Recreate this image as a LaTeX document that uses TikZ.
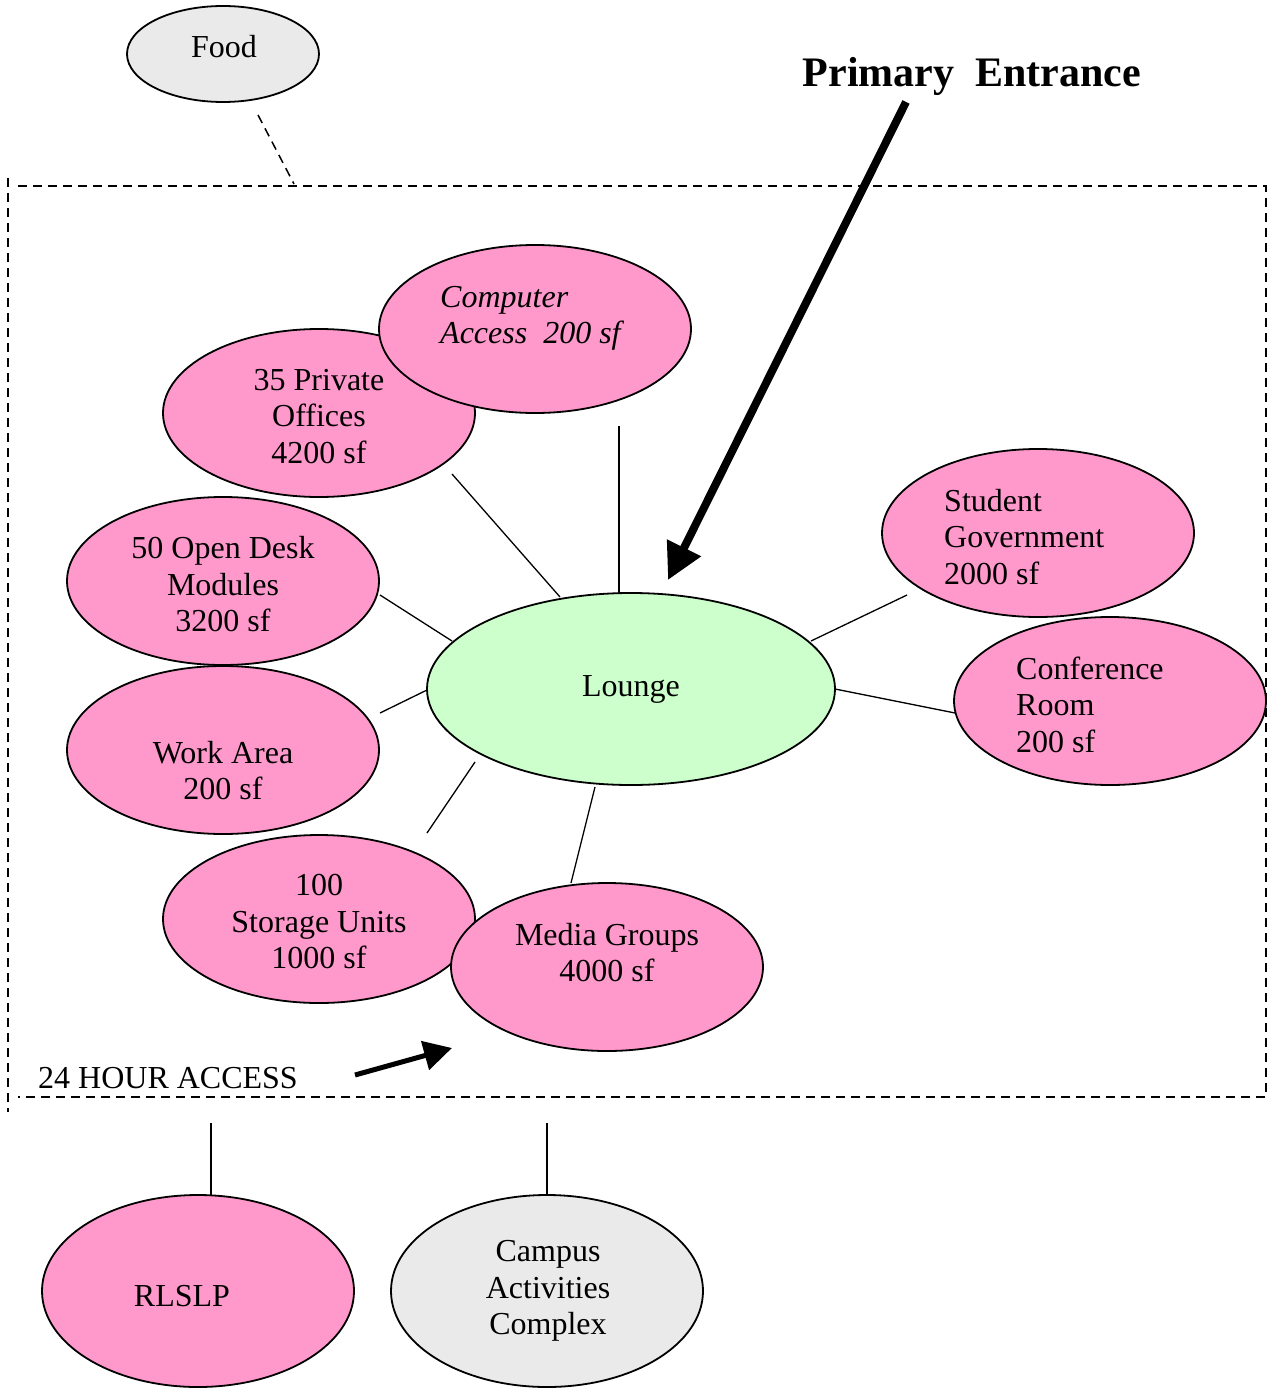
\documentclass[tikz,border=0pt]{standalone}
\usepackage{fontspec}
\setmainfont{Liberation Serif}
\usetikzlibrary{shapes.geometric,arrows.meta}
\definecolor{roompink}{HTML}{FF99CC}
\definecolor{loungegreen}{HTML}{CCFFCC}
\definecolor{outgray}{HTML}{EAEAEA}
\tikzset{
  room/.style={ellipse, draw=black, line width=1.8pt, fill=roompink, inner sep=0pt,
    minimum width=312pt, minimum height=168pt},
  outside/.style={room, fill=outgray},
  lbl/.style={font=\fontsize{32}{36.5}\selectfont, inner sep=0pt, text height=22pt, text depth=7pt},
  link/.style={line width=1.3pt},
  zone/.style={line width=1.5pt, dash pattern=on 9pt off 6pt},
  bigarrow/.style={line width=8pt, -{Triangle[length=36pt,width=36pt]}},
  smallarrow/.style={line width=5pt, -{Triangle[length=28pt,width=29pt]}}
}
\begin{document}
\begin{tikzpicture}[x=1pt,y=-1pt]
\useasboundingbox (0,0) rectangle (1269,1388);

% building boundary
\draw[zone] (8,178) -- (8,1112);
\draw[zone] (18,186) -- (1266,186) -- (1266,1097) -- (18,1097);

% spaces
\node[outside, minimum width=192pt, minimum height=96pt] (food) at (223,54) {};
\node[room] (offices) at (319,413) {};
\node[room] (computer) at (535,329) {};
\node[room] (desks) at (223,581) {};
\node[room] (work) at (223,750) {};
\node[room] (storage) at (319,919) {};
\node[room] (media) at (607,967) {};
\node[room, fill=loungegreen, minimum width=408pt, minimum height=192pt] (lounge) at (631,689) {};
\node[room] (studgov) at (1038,533) {};
\node[room] (conf) at (1110,701) {};
\node[room, minimum height=192pt] (rlslp) at (198,1291) {};
\node[outside, minimum height=192pt] (campus) at (547,1291) {};

% labels
\node[lbl] (foodT) at (224,50) {Food};
\node[lbl, align=center] (officesT) at (319,455.5) {35 Private\\Offices\\4200 sf};
\node[lbl, align=left, anchor=west, font=\fontsize{32}{36.5}\selectfont\itshape] (computerT) at (440,336) {Computer\\Access~ 200 sf};
\node[lbl, align=center] (desksT) at (223,624) {50 Open Desk\\Modules\\3200 sf};
\node[lbl, align=center] (workT) at (223,792) {Work Area\\200 sf};
\node[lbl, align=center] (storageT) at (319,961) {100\\Storage Units\\1000 sf};
\node[lbl, align=center] (mediaT) at (607,974) {Media Groups\\4000 sf};
\node[lbl] (loungeT) at (631,688.5) {Lounge};
\node[lbl, align=left, anchor=west] (studgovT) at (944,576.5) {Student\\Government\\2000 sf};
\node[lbl, align=left, anchor=west] (confT) at (1016,744.5) {Conference\\Room\\200 sf};
\node[lbl] (rlslpT) at (182,1299) {RLSLP};
\node[lbl, align=center] (campusT) at (548,1327) {Campus\\Activities\\Complex};

\node[anchor=base, inner sep=0pt, font=\fontsize{42}{48}\selectfont\bfseries] (entryT) at (972,87) {Primary~ Entrance};
\node[anchor=base west, inner sep=0pt, font=\fontsize{32}{36.5}\selectfont] (accessT) at (38,1088) {24 HOUR ACCESS};

% connector end points
\coordinate (foodE) at (258,115);   \coordinate (zoneTop) at (294,184);
\coordinate (computerE) at (619,426); \coordinate (lnA) at (619,593);
\coordinate (officesE) at (452,474);  \coordinate (lnB) at (560,597);
\coordinate (desksE) at (380,595);    \coordinate (lnC) at (452,641);
\coordinate (workE) at (380,713);     \coordinate (lnD) at (427,690);
\coordinate (storageE) at (427,833);  \coordinate (lnE) at (475,762);
\coordinate (mediaE) at (571,883);    \coordinate (lnF) at (595,787);
\coordinate (studgovE) at (907,595);  \coordinate (lnG) at (811,641);
\coordinate (confE) at (955,713);     \coordinate (lnH) at (835,689);
\coordinate (zoneL) at (211,1123);    \coordinate (rlslpE) at (211,1196);
\coordinate (zoneM) at (547,1123);    \coordinate (campusE) at (547,1196);
\coordinate (entryS) at (906,102);    \coordinate (entryE) at (668,580);
\coordinate (accessS) at (355,1075);  \coordinate (accessE) at (452,1048);

% connectors
\draw[zone] (foodE) -- (zoneTop);
\draw[link] (computerE) -- (lnA);
\draw[link] (officesE) -- (lnB);
\draw[link] (desksE) -- (lnC);
\draw[link] (workE) -- (lnD);
\draw[link] (storageE) -- (lnE);
\draw[link] (mediaE) -- (lnF);
\draw[link] (studgovE) -- (lnG);
\draw[link] (confE) -- (lnH);
\draw[link] (zoneL) -- (rlslpE);
\draw[link] (zoneM) -- (campusE);

% entrances
\draw[bigarrow] (entryS) -- (entryE);
\draw[smallarrow] (accessS) -- (accessE);
\end{tikzpicture}
\end{document}
